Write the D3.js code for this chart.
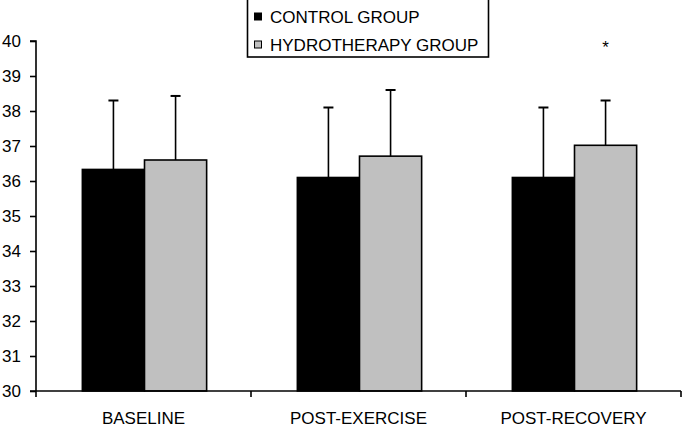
<!DOCTYPE html>
<html><head><meta charset="utf-8">
<script src="https://cdn.jsdelivr.net/npm/d3@7"></script>
<style>body{margin:0;background:#fff}svg{display:block;font-family:"Liberation Sans",Arial,sans-serif}</style>
</head><body>
<svg id="c" width="685" height="429"></svg>
<script>
const categories = ["BASELINE", "POST-EXERCISE", "POST-RECOVERY"];
const seriesNames = ["CONTROL GROUP", "HYDROTHERAPY GROUP"];
const controlMean = [36.33, 36.1, 36.1];
const controlSD = [1.97, 2.0, 2.0];
const hydroMean = [36.6, 36.71, 37.02];
const hydroSD = [1.83, 1.89, 1.28];
const significance = ["", "", "*"];
const yTicks = [30, 31, 32, 33, 34, 35, 36, 37, 38, 39, 40];
const colors = ["#000000", "#c0c0c0"];

(function () {
const svg = d3.select("#c");
const mL = 36, mR = 681, mT = 41, mB = 391;
const x = d3.scaleBand().domain(categories).range([mL, mR]).paddingInner(0).paddingOuter(0);
const xs = d3.scaleBand().domain(seriesNames).range([0, x.bandwidth()]).paddingInner(0).paddingOuter(0.73);
const y = d3.scaleLinear().domain([30, 40]).range([mB, mT]);

const series = [
  {name: seriesNames[0], mean: controlMean, sd: controlSD, color: colors[0]},
  {name: seriesNames[1], mean: hydroMean, sd: hydroSD, color: colors[1]}
];
const bx = (c, s) => x(c) + xs(s) + 1;
const cx = (c, s) => bx(c, s) + xs.bandwidth() / 2;

series.forEach(s => {
  const g = svg.append("g");
  g.selectAll("rect").data(categories).join("rect")
    .attr("x", c => bx(c, s.name))
    .attr("y", (c, i) => y(s.mean[i]))
    .attr("width", xs.bandwidth())
    .attr("height", (c, i) => y(30) - y(s.mean[i]))
    .attr("fill", s.color)
    .attr("stroke", "#000").attr("stroke-width", 1.6);
  g.selectAll("line.eb").data(categories).join("line").attr("class", "eb")
    .attr("x1", c => cx(c, s.name)).attr("x2", c => cx(c, s.name))
    .attr("y1", (c, i) => y(s.mean[i]))
    .attr("y2", (c, i) => y(s.mean[i] + s.sd[i]))
    .attr("stroke", "#000").attr("stroke-width", 1.6);
  g.selectAll("line.cap").data(categories).join("line").attr("class", "cap")
    .attr("x1", c => cx(c, s.name) - 5).attr("x2", c => cx(c, s.name) + 5)
    .attr("y1", (c, i) => y(s.mean[i] + s.sd[i]))
    .attr("y2", (c, i) => y(s.mean[i] + s.sd[i]))
    .attr("stroke", "#000").attr("stroke-width", 2);
});

svg.append("g").selectAll("text").data(categories).join("text")
  .attr("x", c => cx(c, seriesNames[1]))
  .attr("y", 53)
  .attr("text-anchor", "middle")
  .attr("font-size", 17)
  .text((c, i) => significance[i]);

const yAxis = svg.append("g").attr("transform", `translate(${mL},0)`)
  .call(d3.axisLeft(y).tickValues(yTicks).tickSize(6).tickPadding(9).tickFormat(d3.format("d")));
yAxis.select(".domain").attr("stroke-width", 1.6).attr("d", `M-6,${mT}H0V${mB}`);
yAxis.selectAll(".tick line").attr("stroke-width", 1.6);
yAxis.selectAll(".tick text").attr("font-size", 17).attr("fill", "#000").attr("font-family", "Liberation Sans, Arial, sans-serif");

const xAxis = svg.append("g").attr("transform", `translate(0,${mB})`)
  .call(d3.axisBottom(x).tickSize(0).tickPadding(21));
xAxis.select(".domain").attr("stroke-width", 1.6).attr("d", `M${mL - 6},0H${mR}`);
xAxis.selectAll(".tick text").attr("font-size", 17).attr("fill", "#000").attr("font-family", "Liberation Sans, Arial, sans-serif");
const bounds = categories.map(c => x(c)).concat([x(categories[categories.length - 1]) + x.bandwidth()]);
xAxis.append("g").selectAll("line").data(bounds).join("line")
  .attr("x1", d => d).attr("x2", d => d).attr("y1", 0).attr("y2", 6)
  .attr("stroke", "#000").attr("stroke-width", 1.6);

const lg = svg.append("g");
lg.append("rect").attr("x", 247.5).attr("y", -1).attr("width", 241).attr("height", 58)
  .attr("fill", "#fff").attr("stroke", "#000").attr("stroke-width", 1.6);
seriesNames.forEach((n, i) => {
  lg.append("rect").attr("x", 254.5).attr("y", 13 + i * 28).attr("width", 7).attr("height", 7)
    .attr("fill", colors[i]).attr("stroke", "#000").attr("stroke-width", 1);
  lg.append("text").attr("x", 270).attr("y", 22.5 + i * 28).attr("font-size", 17)
    .attr("fill", "#000").text(n);
});
})();
</script>
</body></html>
